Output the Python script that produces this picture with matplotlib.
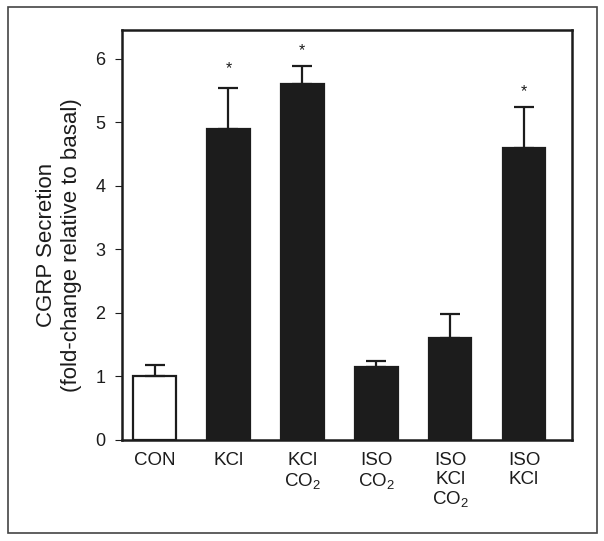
import matplotlib
matplotlib.use('Agg')
import matplotlib.pyplot as plt
from matplotlib.patches import Rectangle

plt.rcParams['font.family'] = ['Liberation Sans', 'DejaVu Sans']
plt.rcParams['mathtext.fontset'] = 'custom'
plt.rcParams['mathtext.rm'] = 'Liberation Sans'
plt.rcParams['mathtext.it'] = 'Liberation Sans'

INK = '#1c1c1c'

groups = ['CON', 'KCl', 'KCl\nCO$_2$', 'ISO\nCO$_2$', 'ISO\nKCl\nCO$_2$', 'ISO\nKCl']
means = [1.0, 4.9, 5.61, 1.15, 1.6, 4.59]
upper_err = [0.18, 0.65, 0.28, 0.09, 0.38, 0.65]
fills = ['white', INK, INK, INK, INK, INK]
star_y = [None, 5.84, 6.13, None, None, 5.49]

fig = plt.figure(figsize=(6.04, 5.41), dpi=100)
ax = fig.add_axes([0.202, 0.187, 0.745, 0.758])

x = list(range(len(groups)))
ax.bar(x, means, width=0.58, color=fills, edgecolor=INK, linewidth=1.6, zorder=2)
ax.errorbar(x, means, yerr=[[0] * len(means), upper_err], fmt='none',
            ecolor=INK, elinewidth=1.6, capsize=7, capthick=1.6, zorder=3)

# significance marks
for xi, sy in zip(x, star_y):
    if sy is not None:
        ax.text(xi, sy, '*', ha='center', va='center', fontsize=11.5, color=INK)

ax.set_xlim(-0.44, 5.65)
ax.set_ylim(0, 6.46)
ax.set_yticks(range(7))
ax.set_xticks(x)
ax.set_xticklabels(groups, fontsize=13.5, color=INK, va='top', linespacing=1.1)
ax.tick_params(axis='x', length=0, pad=9)
ax.tick_params(axis='y', length=5, width=0.8, pad=7, labelsize=13,
               colors=INK)
for s in ax.spines.values():
    s.set_linewidth(1.8)
    s.set_color(INK)

ax.set_ylabel('CGRP Secretion\n(fold-change relative to basal)', fontsize=16,
              color=INK, linespacing=1.2)
ax.yaxis.set_label_coords(-0.09, 0.475)

# outer frame around the panel
fig.patches.append(Rectangle((8 / 604, 1 - 533 / 541), 589 / 604, 526 / 541,
                             transform=fig.transFigure, fill=False,
                             edgecolor='#444444', linewidth=1.2))

plt.savefig('out.png', dpi=100)
plt.close()
